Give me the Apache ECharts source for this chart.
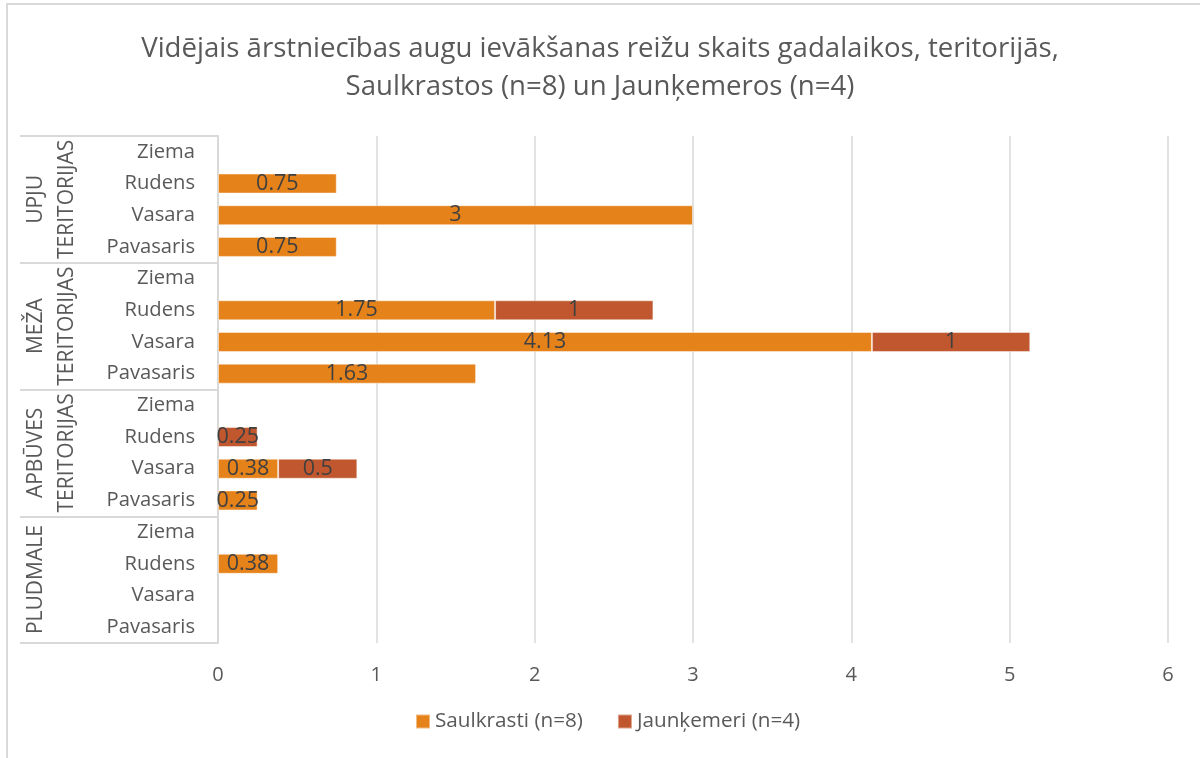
<!DOCTYPE html>
<html>
<head>
<meta charset="utf-8">
<script src="https://cdn.jsdelivr.net/npm/echarts@6/dist/echarts.min.js"></script>
<style>
  html, body { margin: 0; padding: 0; background: #fff; }
  #wrap { position: relative; width: 1200px; height: 758px; overflow: hidden; }
  #frame { position: absolute; left: 6px; top: 3px; width: 1300px; height: 900px;
           border-left: 2px solid #d9d9d9; border-top: 2px solid #d9d9d9; pointer-events: none; }
  #chart { position: absolute; left: 0; top: 0; width: 1200px; height: 758px; }
</style>
</head>
<body>
<div id="wrap">
  <div id="chart"></div>
  <div id="frame"></div>
</div>
<script>
// Territory groups, bottom to top, and the seasons inside each group
const groups = ['PLUDMALE', 'APBŪVES\nTERITORIJAS', 'MEŽA\nTERITORIJAS', 'UPJU\nTERITORIJAS'];
const seasons = ['Pavasaris', 'Vasara', 'Rudens', 'Ziema'];

// One row per group × season (bottom to top)
const categories = groups.flatMap(() => seasons);

// Average number of collection trips (null = none)
const saulkrasti = [
  null, null, 0.38, null,      // Pludmale
  0.25, 0.38, null, null,      // Apbūves teritorijas
  1.63, 4.13, 1.75, null,      // Meža teritorijas
  0.75, 3, 0.75, null          // Upju teritorijas
];
const jaunkemeri = [
  null, null, null, null,
  null, 0.5, 0.25, null,
  null, 1, 1, null,
  null, null, null, null
];

const seriesNames = ['Saulkrasti (n=8)', 'Jaunķemeri (n=4)'];
const titleText = 'Vidējais ārstniecības augu ievākšanas reižu skaits gadalaikos, teritorijās,\nSaulkrastos (n=8) un Jaunķemeros (n=4)';

const FONT = "'Open Sans', 'Noto Sans', sans-serif";
const GRID = '#d9d9d9';
const TEXT = '#595959';

const chart = echarts.init(document.getElementById('chart'), null, { renderer: 'canvas' });

const barLabel = {
  show: true,
  position: 'inside',
  color: '#404040',
  fontSize: 21.5,
  fontFamily: FONT
};

chart.setOption({
  animation: false,
  textStyle: { fontFamily: FONT },
  title: {
    text: titleText,
    left: 'center',
    top: 25,
    textStyle: { fontSize: 27.6, fontWeight: 'normal', color: TEXT, lineHeight: 38, fontFamily: FONT }
  },
  legend: {
    bottom: 21,
    left: 410,
    icon: 'rect',
    itemWidth: 14,
    itemHeight: 14,
    itemGap: 34,
    textStyle: { color: TEXT, fontSize: 20.7, fontFamily: FONT },
    data: seriesNames
  },
  grid: { left: 218, right: 32, top: 136, bottom: 115, containLabel: false },
  xAxis: {
    type: 'value',
    min: 0,
    max: 6,
    interval: 1,
    axisLine: { show: false },
    axisTick: { show: false },
    axisLabel: { color: TEXT, fontSize: 20, margin: 22, fontFamily: FONT },
    splitLine: { lineStyle: { color: GRID, width: 1.5 } }
  },
  yAxis: [
    {
      type: 'category',
      data: categories,
      axisLine: { show: true, lineStyle: { color: GRID, width: 2 } },
      axisTick: { show: false },
      axisLabel: { interval: 0, color: TEXT, fontSize: 20.2, margin: 23, fontFamily: FONT }
    },
    {
      type: 'category',
      data: groups,
      position: 'left',
      offset: 198,
      axisLine: { show: false },
      axisTick: { show: true, inside: true, length: 198, lineStyle: { color: GRID, width: 2 } },
      axisLabel: {
        interval: 0,
        inside: true,
        rotate: 90,
        margin: 1,
        color: TEXT,
        fontSize: 21,
        lineHeight: 31,
        hideOverlap: false,
        fontFamily: FONT
      }
    }
  ],
  series: [
    {
      name: seriesNames[0],
      type: 'bar',
      stack: 'total',
      yAxisIndex: 0,
      barWidth: 20,
      itemStyle: { color: '#E6821A', borderColor: 'rgba(255,255,255,0.45)', borderWidth: 1 },
      label: barLabel,
      data: saulkrasti
    },
    {
      name: seriesNames[1],
      type: 'bar',
      stack: 'total',
      yAxisIndex: 0,
      barWidth: 20,
      itemStyle: { color: '#C0572E', borderColor: 'rgba(255,255,255,0.45)', borderWidth: 1 },
      label: barLabel,
      data: jaunkemeri
    }
  ]
});
</script>
</body>
</html>
